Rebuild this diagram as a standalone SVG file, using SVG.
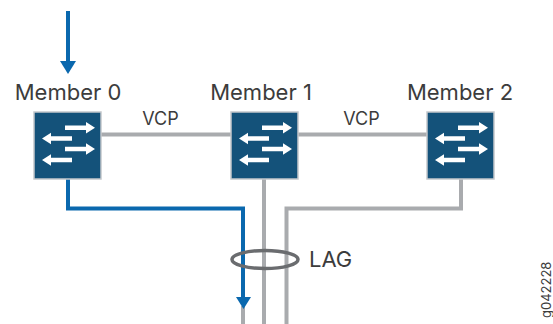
<svg xmlns="http://www.w3.org/2000/svg" width="553" height="324" viewBox="0 0 553 324">
<style>
text{font-family:"Inter","Noto Sans","Liberation Sans",sans-serif;fill:#3c3c3c}
.m{font-size:22px;text-anchor:middle}
.v{font-size:18px;text-anchor:middle}
.box{fill:#14527a;stroke:#c4c8cc;stroke-width:1.5}
.gl{fill:none;stroke:#a9abae;stroke-width:4}
.bl{fill:none;stroke:#0a68ae;stroke-width:4}
.w{fill:#fff}
</style>
<defs>
<path id="r" class="w" d="M0-2.250H21V-5.800L30 0 21 5.800V2.250H0Z"/>
<path id="l" class="w" d="M0-2.250H-21V-5.800L-30 0-21 5.800V2.250H0Z"/>
<g id="sw">
<rect class="box" width="67" height="67"/>
<use href="#r" x="31" y="15.700"/>
<use href="#r" x="31" y="37"/>
<use href="#l" x="38" y="26.500"/>
<use href="#l" x="38" y="48"/>
</g>
</defs>
<g id="connectors">
<path class="gl" d="M101 134.500H231"/>
<path class="gl" d="M298 134.500H427"/>
<path class="gl" d="M264 179V324"/>
<path class="gl" d="M461 179V208.500H286.500V324"/>
<path class="gl" d="M243 306V324"/>
<path class="bl" d="M68 11V62"/>
<path fill="#0a68ae" d="M60 61H76L68 74Z"/>
<path class="bl" d="M68 179V208.500H243V298"/>
<path fill="#0a68ae" d="M236 297H251L243.500 309Z"/>
<ellipse cx="265" cy="259.500" rx="33" ry="9" fill="none" stroke="#6a6c6f" stroke-width="3.500"/>
</g>
<g id="member0"><use href="#sw" x="34" y="112"/><text class="m" x="68" y="99.500">Member 0</text></g>
<g id="member1"><use href="#sw" x="231" y="112"/><text class="m" x="261" y="99.500">Member 1</text></g>
<g id="member2"><use href="#sw" x="427" y="112"/><text class="m" x="460" y="99.500">Member 2</text></g>
<text class="v" x="160.500" y="124.500">VCP</text>
<text class="v" x="361.500" y="124.500">VCP</text>
<text x="309" y="267" font-size="22">LAG</text>
<text transform="translate(551 318) rotate(-90)" font-size="13">g042228</text>
</svg>
